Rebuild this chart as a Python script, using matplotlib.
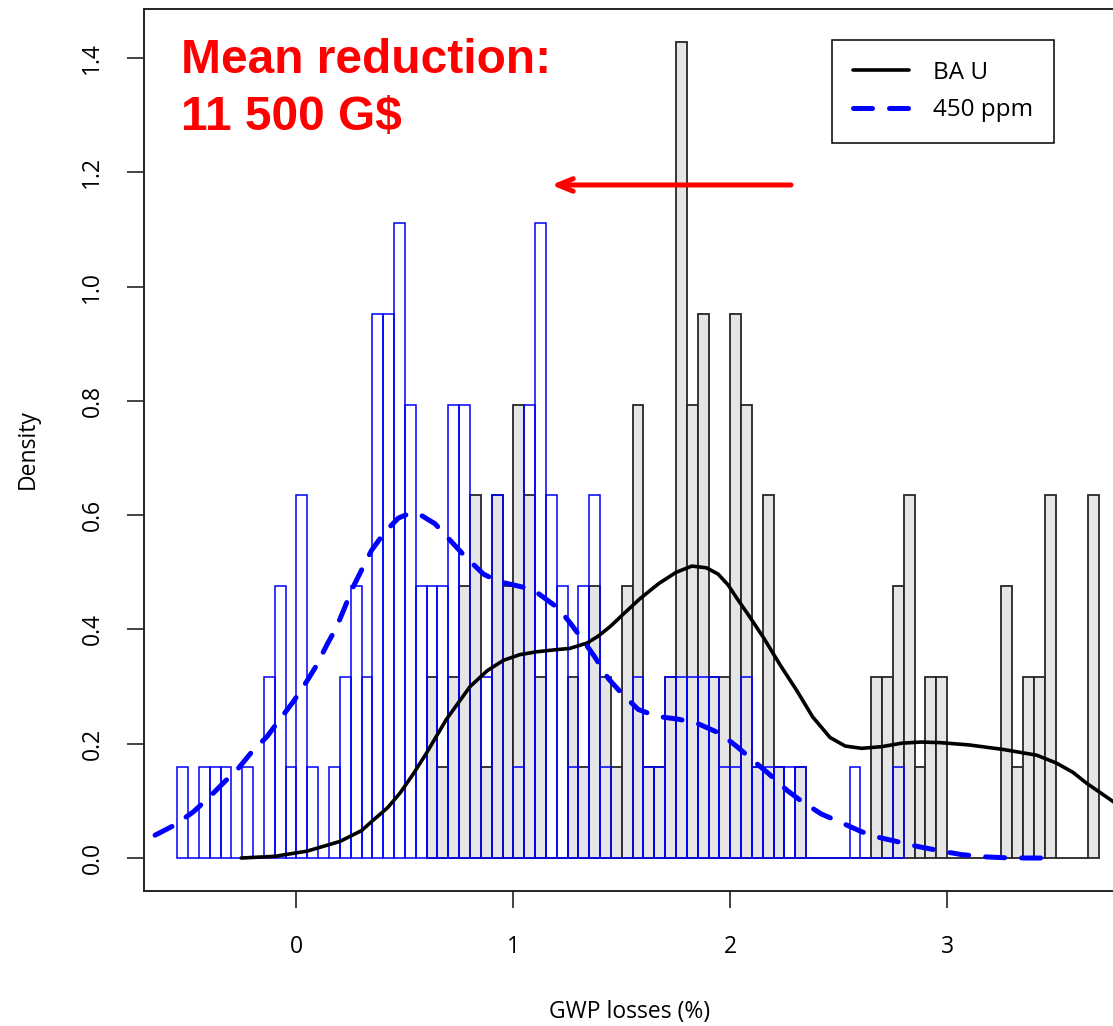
import numpy as np
import matplotlib
matplotlib.use('Agg')
import matplotlib.pyplot as plt

# histogram bins (GWP losses, %)
bin_width = 0.05
n_runs = 126
blue_start = -0.55
gray_start = 0.60

# counts per bin, 450 ppm scenario (from -0.55)
blue_counts = [1, 0, 1, 1, 1, 0, 1, 0, 2, 3, 1,
               4, 1, 0, 1, 2, 3, 2,
               6, 6, 7, 5, 3, 3, 3, 5, 5,
               0, 2, 4, 0, 1, 5, 7, 4, 3, 1, 3, 4, 1,
               0, 0, 2, 1, 1, 2, 2, 2, 2, 2, 1, 1, 2, 1, 1, 1, 1, 1,
               0, 0, 0, 0, 1, 0, 0, 0, 1]

# counts per bin, BAU scenario (from 0.60)
gray_counts = [2, 1, 2, 3, 4, 1, 4, 3, 5, 4, 2, 0, 0, 2, 1, 3, 2, 1, 3, 5,
               1, 1, 2, 9, 5, 6, 2, 2, 6, 5, 1, 4, 1, 0, 1,
               0, 0, 0, 0, 0, 0, 2, 2, 3, 4, 1, 2, 2,
               0, 0, 0, 0, 0, 3, 1, 2, 2, 4, 0, 0, 0, 4]

# density curves
bau_x = [-0.255, -0.10, 0.048, 0.20, 0.30, 0.353, 0.42, 0.478, 0.54, 0.60, 0.69,
         0.80, 0.88, 0.954, 1.03, 1.108, 1.18, 1.261, 1.338, 1.39, 1.446, 1.51,
         1.584, 1.669, 1.75, 1.823, 1.89, 1.944, 1.99, 2.03, 2.09, 2.153, 2.23,
         2.307, 2.38, 2.46, 2.53, 2.606, 2.70, 2.79, 2.88, 2.967, 3.10, 3.259,
         3.413, 3.505, 3.58, 3.643, 3.78]
bau_y = [0.0, 0.003, 0.012, 0.029, 0.048, 0.066, 0.088, 0.114, 0.148, 0.184,
         0.242, 0.30, 0.328, 0.346, 0.356, 0.361, 0.364, 0.367, 0.376, 0.388,
         0.405, 0.428, 0.454, 0.48, 0.500, 0.511, 0.508, 0.497, 0.478, 0.455,
         0.422, 0.386, 0.338, 0.293, 0.247, 0.211, 0.196, 0.192, 0.195, 0.201,
         0.203, 0.202, 0.198, 0.190, 0.180, 0.166, 0.150, 0.131, 0.095]

ppm_x = [-0.652, -0.56, -0.475, -0.406, -0.33, -0.268, -0.199, -0.137, -0.068,
         -0.014, 0.047, 0.094, 0.14, 0.186, 0.224, 0.262, 0.308, 0.347, 0.408,
         0.47, 0.52, 0.57, 0.639, 0.716, 0.777, 0.862, 0.931, 1.046, 1.115, 1.208,
         1.261, 1.331, 1.377, 1.438, 1.50, 1.576, 1.661, 1.761, 1.846, 1.953,
         2.031, 2.114, 2.176, 2.26, 2.33, 2.42, 2.50, 2.606, 2.675, 2.79, 2.867,
         2.99, 3.067, 3.18, 3.267, 3.375, 3.443]
ppm_y = [0.040, 0.058, 0.081, 0.105, 0.134, 0.157, 0.189, 0.212, 0.247,
         0.274, 0.309, 0.338, 0.373, 0.405, 0.44, 0.475, 0.51, 0.539, 0.571,
         0.595, 0.603, 0.601, 0.585, 0.553, 0.528, 0.497, 0.484, 0.474, 0.463, 0.437,
         0.412, 0.376, 0.351, 0.314, 0.288, 0.260, 0.248, 0.243, 0.236, 0.218,
         0.195, 0.168, 0.148, 0.119, 0.099, 0.077, 0.064, 0.046, 0.037, 0.027, 0.020,
         0.011, 0.006, 0.002, 0.0005, 0.0, 0.0]

legend_labels = ['BA U', '450 ppm']
note_text = 'Mean reduction:\n11 500 G$'
arrow_tail = (2.28, 1.178)
arrow_head = (1.175, 1.178)

unit = 1.0 / (n_runs * bin_width)
blue_edges = blue_start + bin_width * np.arange(len(blue_counts))
gray_edges = gray_start + bin_width * np.arange(len(gray_counts))
blue_h = np.array(blue_counts) * unit
gray_h = np.array(gray_counts) * unit

plt.rcParams['font.family'] = ['Open Sans', 'DejaVu Sans']

fig = plt.figure(figsize=(11.13, 10.26), dpi=100)
ax = fig.add_axes([144/1113, 135/1026, 971/1113, 882/1026])

ax.bar(gray_edges, gray_h, width=bin_width, align='edge', color='#e5e5e5',
       edgecolor='#262626', linewidth=1.3, zorder=2)
ax.bar(blue_edges, blue_h, width=bin_width, align='edge', fill=False,
       edgecolor='#0000ff', linewidth=1.1, zorder=3)

ax.plot(bau_x, bau_y, color='black', lw=2.6, zorder=4, label=legend_labels[0],
        solid_capstyle='round', solid_joinstyle='round')
ax.plot(ppm_x, ppm_y, color='#0000ff', lw=3.6, zorder=4, label=legend_labels[1],
        linestyle=(0, (3.8, 3.4)), dash_capstyle='round')

ax.set_xlim(-0.703, 3.774)
ax.set_ylim(-0.0577, 1.486)
ax.set_xticks([0, 1, 2, 3])
ax.set_yticks(np.arange(0, 1.41, 0.2))
ax.set_yticklabels(['%.1f' % v for v in np.arange(0, 1.41, 0.2)],
                   rotation=90, va='center')
ax.tick_params(axis='both', direction='out', length=12.5, width=1.2,
               labelsize=16.5, color='#222222')
ax.tick_params(axis='x', pad=19)
ax.tick_params(axis='y', pad=16)
for s in ax.spines.values():
    s.set_linewidth(1.4)
    s.set_color('#222222')

fig.text(630/1113, 1 - 1012/1026, 'GWP losses (%)', ha='center', va='center',
         fontsize=16.5)
fig.text(28/1113, 1 - 449/1026, 'Density', ha='center', va='center',
         rotation=90, fontsize=16.5)

leg = ax.legend(loc='upper left', bbox_to_anchor=(832/1113, 1 - 40/1026),
                bbox_transform=fig.transFigure, borderaxespad=0, fancybox=False,
                edgecolor='black', fontsize=17.5, handlelength=2.3,
                handletextpad=1.0, borderpad=0.85, labelspacing=0.55,
                framealpha=1)
leg.get_frame().set_linewidth(1.1)

fig.text(181/1113, 1 - 38/1026, note_text, ha='left', va='top', color='#ff0000',
         fontsize=34.5, fontweight='bold', family=['Liberation Sans', 'DejaVu Sans'],
         linespacing=1.33)

ax.annotate('', xy=arrow_head, xytext=arrow_tail,
            arrowprops=dict(arrowstyle='->,head_length=1.1,head_width=0.45',
                            color='#ff0000', lw=3.6, shrinkA=0, shrinkB=0),
            zorder=5)

fig.savefig('out.png', dpi=100)
